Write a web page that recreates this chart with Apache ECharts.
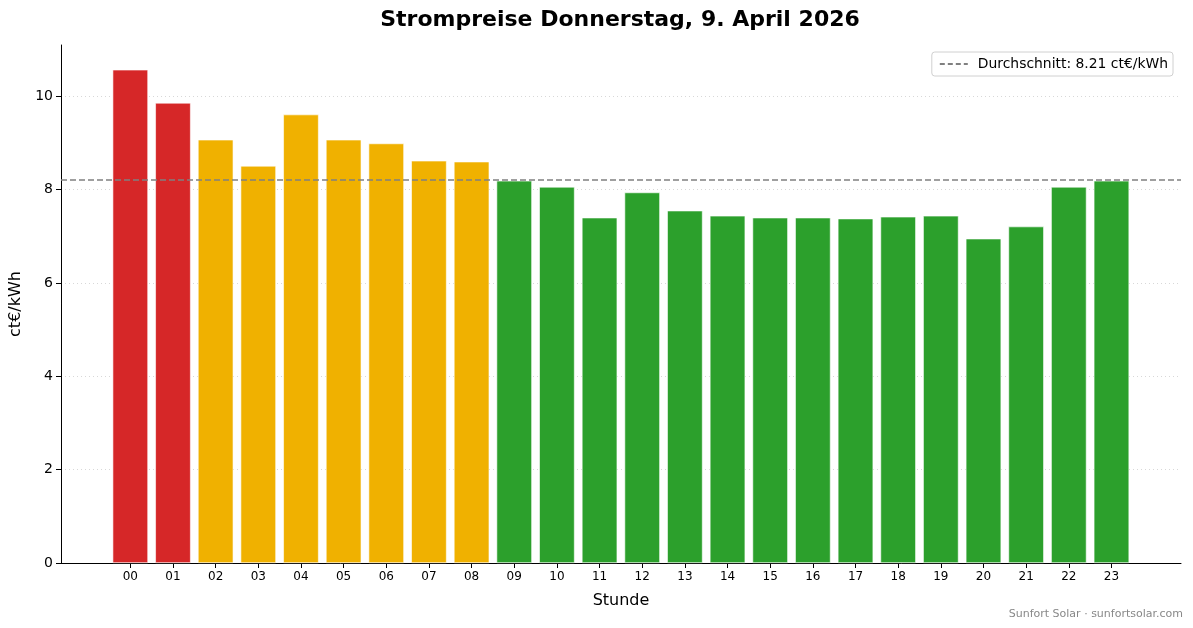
<!DOCTYPE html>
<html>
<head>
<meta charset="utf-8">
<script src="https://cdn.jsdelivr.net/npm/echarts@6/dist/echarts.min.js"></script>
<style>
html,body{margin:0;padding:0;background:#fff;}
#chart{width:1193px;height:628px;}
</style>
</head>
<body>
<div id="chart"></div>
<script>
var hours = ['00','01','02','03','04','05','06','07','08','09','10','11','12','13','14','15','16','17','18','19','20','21','22','23'];
var prices = [10.57, 9.86, 9.07, 8.51, 9.61, 9.07, 8.99, 8.62, 8.60, 8.19, 8.06, 7.40, 7.94, 7.55, 7.44, 7.40, 7.40, 7.38, 7.42, 7.44, 6.95, 7.21, 8.06, 8.19];
var tiers = ['teuer','teuer','mittel','mittel','mittel','mittel','mittel','mittel','mittel','günstig','günstig','günstig','günstig','günstig','günstig','günstig','günstig','günstig','günstig','günstig','günstig','günstig','günstig','günstig'];
var yTicks = [0, 2, 4, 6, 8, 10];
var average = 8.21;

var tierColors = { 'teuer': '#d62728', 'mittel': '#f0b100', 'günstig': '#2ca02c' };
var FONT = 'DejaVu Sans';

var barData = prices.map(function (v, i) {
  return { value: [i, v], itemStyle: { color: tierColors[tiers[i]] } };
});
var xTickValues = hours.map(function (h, i) { return i; });
var legendName = 'Durchschnitt: ' + average.toFixed(2) + ' ct€/kWh';

var chart = echarts.init(document.getElementById('chart'), null, { renderer: 'canvas' });
chart.setOption({
  animation: false,
  backgroundColor: '#fff',
  textStyle: { fontFamily: FONT },
  title: {
    text: 'Strompreise Donnerstag, 9. April 2026',
    left: 615,
    textAlign: 'center',
    top: 4,
    textStyle: { fontFamily: FONT, fontWeight: 'bold', fontSize: 22, color: '#000' }
  },
  legend: {
    right: 20,
    top: 52,
    data: [legendName],
    itemWidth: 28,
    itemHeight: 14,
    itemGap: 6,
    padding: [5, 5, 5, 7],
    borderColor: '#d0d0d0',
    borderWidth: 1,
    borderRadius: 3,
    itemStyle: { color: 'rgba(0,0,0,0)', opacity: 0, borderWidth: 0 },
    textStyle: { fontFamily: FONT, fontSize: 13.9, color: '#000', padding: [0, 0, 0, 5] }
  },
  grid: { left: 61, right: 12, top: 45, bottom: 65, containLabel: false, outerBoundsMode: 'none' },
  xAxis: {
    type: 'value',
    min: -1.625,
    max: 24.63,
    name: 'Stunde',
    nameLocation: 'middle',
    nameGap: 30,
    nameTextStyle: { fontFamily: FONT, fontSize: 16, color: '#000' },
    axisLine: { show: true, onZero: false, lineStyle: { color: '#000', width: 1 } },
    axisTick: { show: true, length: 5, lineStyle: { color: '#000' }, customValues: xTickValues },
    axisLabel: {
      customValues: xTickValues,
      formatter: function (v) { return hours[Math.round(v)]; },
      fontFamily: FONT, fontSize: 12, color: '#000', margin: 8
    },
    splitLine: { show: false }
  },
  yAxis: {
    type: 'value',
    min: 0,
    max: 11.1,
    name: 'ct€/kWh',
    nameLocation: 'middle',
    nameGap: 35,
    nameTextStyle: { fontFamily: FONT, fontSize: 16, color: '#000' },
    axisLine: { show: true, onZero: false, lineStyle: { color: '#000', width: 1 } },
    axisTick: { show: true, length: 5, lineStyle: { color: '#000' }, customValues: yTicks },
    axisLabel: { customValues: yTicks, fontFamily: FONT, fontSize: 14, color: '#000', margin: 8 },
    splitLine: { show: true, lineStyle: { color: '#d8d8d8', type: [1, 3], width: 1 } }
  },
  series: [
    {
      type: 'bar',
      data: barData,
      barWidth: '83%',
      itemStyle: { borderColor: '#ffffff', borderWidth: 0.6 },
      silent: true
    },
    {
      type: 'line',
      name: legendName,
      data: [],
      symbol: 'none',
      color: '#808080',
      lineStyle: { color: '#808080', type: [5, 3], width: 1.6 },
      markLine: {
        silent: true,
        symbol: ['none', 'none'],
        label: { show: false },
        lineStyle: { color: '#808080', type: [6, 3], width: 1.6 },
        data: [{ yAxis: average }]
      }
    }
  ],
  graphic: [{
    type: 'text',
    right: 10,
    bottom: 8,
    style: { text: 'Sunfort Solar · sunfortsolar.com', fontFamily: FONT, fontSize: 11, fill: '#888' }
  }]
});
</script>
</body>
</html>
